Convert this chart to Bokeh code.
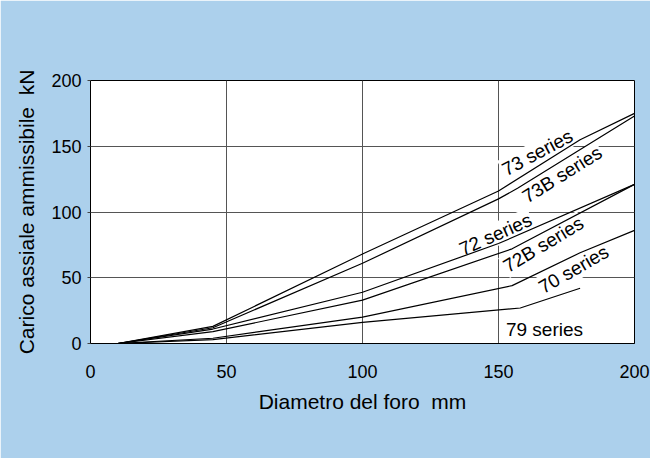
import math
from bokeh.plotting import figure
from bokeh.models import Range1d, FixedTicker, ColumnDataSource
from bokeh.embed import file_html
from bokeh.resources import INLINE
from bokeh.core.properties import value

# ---- data ----
diam_73 = [10, 45, 100, 150, 180, 200]
load_73 = [0, 13, 68, 116, 155, 175]
diam_73b = [10, 45, 100, 150, 157, 200]
load_73b = [0, 12, 61, 110, 118, 173]
diam_72 = [10, 45, 100, 150, 200]
load_72 = [0, 11, 39, 76, 121]
diam_72b = [10, 45, 100, 155, 200]
load_72b = [0, 9, 33, 72, 121]
diam_70 = [10, 45, 100, 155, 180, 200]
load_70 = [0, 4, 20, 44, 69, 86]
diam_79 = [10, 45, 100, 158, 180]
load_79 = [0, 3, 16, 27, 42]

series_names = ["73 series", "73B series", "72 series", "72B series", "70 series", "79 series"]
x_ticks = [0, 50, 100, 150, 200]
y_ticks = [0, 50, 100, 150, 200]
x_title = "Diametro del foro\u00a0 mm"
y_title = "Carico assiale ammissibile\u00a0 kN"

# ---- label placement (layout, not data) ----
label_x = [164.3, 173.4, 148.9, 166.5, 177.6, 166.9]
label_y = [145.2, 128.5, 82.9, 75.3, 56.3, 10.6]
label_deg = [28, 32, 24, 31, 30, 0]

FONT = "Liberation Sans"
BLUE = "#acd0ec"

p = figure(width=650, height=458,
           x_range=Range1d(0, 200), y_range=Range1d(0, 200),
           output_backend="svg", toolbar_location=None,
           background_fill_color="white", border_fill_color=BLUE,
           min_border_left=90, min_border_right=16,
           min_border_top=80, min_border_bottom=115)

p.outline_line_color = "black"
p.outline_line_width = 1

for ax in (p.xaxis, p.yaxis):
    ax.major_label_text_font = FONT
    ax.major_label_text_font_size = "18px"
    ax.major_label_text_color = "black"
    ax.axis_label_text_font = FONT
    ax.axis_label_text_font_size = "21px"
    ax.axis_label_text_font_style = "normal"
    ax.axis_label_text_color = "black"
    ax.minor_tick_line_color = None
    ax.axis_line_color = "black"
    ax.major_tick_line_color = "#444444"

p.xaxis.ticker = FixedTicker(ticks=x_ticks)
p.yaxis.ticker = FixedTicker(ticks=y_ticks)
p.xaxis.axis_label = x_title
p.yaxis.axis_label = y_title
p.xaxis.major_tick_in = 0
p.xaxis.major_tick_out = 0
p.xaxis.major_label_standoff = 21
p.xaxis.axis_label_standoff = 9
p.yaxis.major_tick_in = 0
p.yaxis.major_tick_out = 3
p.yaxis.major_label_standoff = 6
p.yaxis.axis_label_standoff = 10

p.xgrid.ticker = FixedTicker(ticks=x_ticks)
p.ygrid.ticker = FixedTicker(ticks=y_ticks)
p.xgrid.grid_line_color = "#555555"
p.ygrid.grid_line_color = "#555555"
p.xgrid.grid_line_width = 1
p.ygrid.grid_line_width = 1

# labels (white boxes mask the grid, drawn beneath the curves)
lab = ColumnDataSource(dict(x=label_x, y=label_y, text=series_names,
                            angle=[math.radians(a) for a in label_deg]))
p.text(x="x", y="y", text="text", angle="angle", source=lab,
       text_font=value(FONT), text_font_size="19px", text_color="black",
       text_align="center", text_baseline="middle",
       background_fill_color="white", padding=1)

curves = [(diam_73, load_73), (diam_73b, load_73b), (diam_72, load_72),
          (diam_72b, load_72b), (diam_70, load_70), (diam_79, load_79)]
for xs, ys in curves:
    p.line(xs, ys, line_color="black", line_width=1.2)

open("out.html", "w").write(file_html(p, INLINE))
